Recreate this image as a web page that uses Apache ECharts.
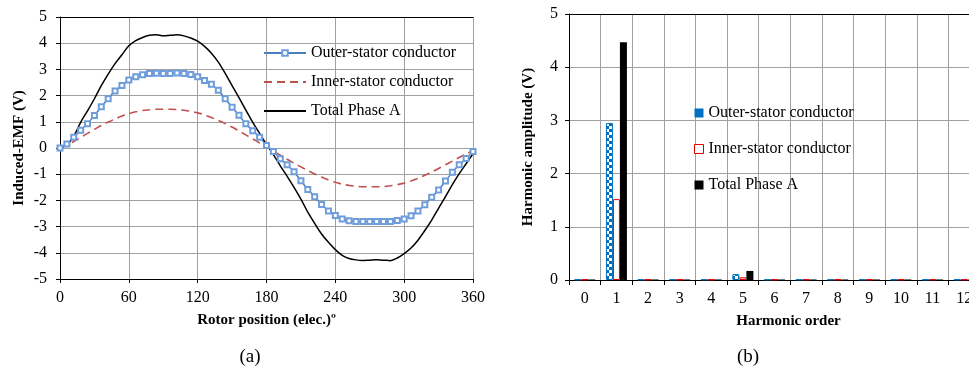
<!DOCTYPE html>
<html><head><meta charset="utf-8">
<script src="https://cdn.jsdelivr.net/npm/echarts@6/dist/echarts.min.js"></script>
<style>html,body{margin:0;padding:0;background:#fff}#c{width:969px;height:370px}</style>
</head><body><div id="c"></div>
<script>
// ---- (a) Induced EMF vs rotor position ----
const angleDeg = [0,6,12,18,24,30,36,42,48,54,60,66,72,78,84,90,96,102,108,114,120,126,132,138,144,150,156,162,168,174,180,186,192,198,204,210,216,222,228,234,240,246,252,258,264,270,276,282,288,294,300,306,312,318,324,330,336,342,348,354,360];
const outerEMF = [0,0.15,0.41,0.68,0.93,1.24,1.57,1.88,2.18,2.39,2.6,2.72,2.8,2.84,2.85,2.84,2.84,2.86,2.84,2.81,2.72,2.58,2.43,2.2,1.88,1.56,1.25,0.93,0.66,0.41,0.1,-0.13,-0.41,-0.64,-0.91,-1.25,-1.58,-1.86,-2.16,-2.4,-2.58,-2.71,-2.78,-2.81,-2.81,-2.81,-2.81,-2.81,-2.81,-2.77,-2.71,-2.59,-2.4,-2.17,-1.88,-1.6,-1.26,-0.93,-0.64,-0.4,-0.13];
const innerEMF = [0,0.1,0.25,0.4,0.56,0.71,0.86,0.99,1.11,1.22,1.31,1.38,1.43,1.46,1.48,1.48,1.48,1.47,1.44,1.4,1.34,1.26,1.16,1.05,0.93,0.8,0.65,0.5,0.35,0.19,0.04,-0.12,-0.27,-0.43,-0.58,-0.72,-0.86,-0.99,-1.11,-1.22,-1.31,-1.38,-1.43,-1.46,-1.48,-1.48,-1.48,-1.47,-1.44,-1.4,-1.34,-1.26,-1.16,-1.04,-0.92,-0.78,-0.64,-0.5,-0.36,-0.23,-0.1];
const totalEMF = [0,0.12,0.45,0.98,1.42,1.88,2.38,2.82,3.22,3.56,3.9,4.1,4.22,4.3,4.32,4.28,4.3,4.32,4.28,4.2,4.08,3.88,3.62,3.28,2.85,2.38,1.92,1.45,0.98,0.56,0.14,-0.25,-0.68,-1.08,-1.5,-1.95,-2.45,-2.88,-3.28,-3.6,-3.88,-4.1,-4.22,-4.27,-4.29,-4.28,-4.27,-4.28,-4.3,-4.2,-4.03,-3.82,-3.52,-3.15,-2.75,-2.3,-1.86,-1.4,-0.98,-0.6,-0.22];

// ---- (b) Harmonic spectrum ----
const harmonicOrders = ['0','1','2','3','4','5','6','7','8','9','10','11','12'];
const outerHarm = [0.01,2.95,0.01,0.01,0.01,0.11,0.01,0.01,0.01,0.01,0.01,0.01,0.01];
const innerHarm = [0.01,1.52,0.01,0.01,0.01,0.05,0.01,0.01,0.01,0.01,0.01,0.01,0.01];
const totalHarm = [0.01,4.47,0.01,0.01,0.01,0.17,0.01,0.01,0.01,0.01,0.01,0.01,0.01];

const seriesNames = ['Outer-stator conductor','Inner-stator conductor','Total Phase A'];
const barNames = seriesNames.map(n => n + ' ');

const FONT = 'Liberation Serif, Times New Roman, serif';
const GRIDC = '#a0a0a0';

const pat = document.createElement('canvas');
pat.width = 6; pat.height = 6;
const g = pat.getContext('2d');
g.fillStyle = '#ffffff'; g.fillRect(0,0,6,6);
g.fillStyle = '#0070c0';
g.fillRect(0,0,3,3); g.fillRect(3,3,3,3);

const pairs = arr => angleDeg.map((a,i) => [a, arr[i]]);

const axisLbl = {color:'#000', fontFamily:FONT, fontSize:16};
const nameStyle = {color:'#000', fontFamily:FONT, fontSize:15, fontWeight:'bold'};

const chart = echarts.init(document.getElementById('c'), null, {renderer:'canvas'});
chart.setOption({
  animation:false,
  backgroundColor:'#fff',
  grid:[
    {left:60, width:413, top:17, height:262, containLabel:false, outerBoundsMode:'none'},
    {left:569, width:411, top:14, height:266, containLabel:false, outerBoundsMode:'none'}
  ],
  xAxis:[
    {type:'value', gridIndex:0, min:0, max:360, interval:60,
     name:'Rotor position (elec.)º', nameLocation:'middle', nameGap:34, nameTextStyle:nameStyle,
     axisLine:{onZero:false, lineStyle:{color:'#000', width:1}},
     axisTick:{show:true, length:4, lineStyle:{color:'#000'}},
     axisLabel:Object.assign({margin:11}, axisLbl),
     splitLine:{show:true, lineStyle:{color:GRIDC, width:1}}},
    {type:'value', gridIndex:0, position:'top', min:0, max:1,
     axisLine:{show:true, onZero:false, lineStyle:{color:'#000'}}, axisTick:{show:false}, axisLabel:{show:false}, splitLine:{show:false}},
    {type:'category', gridIndex:1, data:harmonicOrders, boundaryGap:true,
     name:'Harmonic order', nameLocation:'middle', nameGap:34, nameTextStyle:Object.assign({padding:[0,0,0,28]}, nameStyle),
     axisLine:{onZero:false, lineStyle:{color:'#000', width:1}},
     axisTick:{show:true, length:5, interval:0, lineStyle:{color:'#000'}},
     axisLabel:Object.assign({margin:11, interval:0}, axisLbl),
     splitLine:{show:true, interval:0, lineStyle:{color:GRIDC, width:1}}},
    {type:'value', gridIndex:1, position:'top', min:0, max:1,
     axisLine:{show:true, onZero:false, lineStyle:{color:'#000'}}, axisTick:{show:false}, axisLabel:{show:false}, splitLine:{show:false}}
  ],
  yAxis:[
    {type:'value', gridIndex:0, min:-5, max:5, interval:1,
     name:'Induced-EMF (V)', nameLocation:'middle', nameGap:33, nameTextStyle:nameStyle,
     axisLine:{show:true, onZero:false, lineStyle:{color:'#000', width:1}},
     axisTick:{show:true, length:4, lineStyle:{color:'#000'}},
     axisLabel:Object.assign({margin:13}, axisLbl),
     splitLine:{show:true, lineStyle:{color:GRIDC, width:1}}},
    {type:'value', gridIndex:1, min:0, max:5, interval:1,
     name:'Harmonic amplitude (V)', nameLocation:'middle', nameGap:33, nameTextStyle:nameStyle,
     axisLine:{show:true, onZero:false, lineStyle:{color:'#000', width:1}},
     axisTick:{show:true, length:4, lineStyle:{color:'#000'}},
     axisLabel:Object.assign({margin:11}, axisLbl),
     splitLine:{show:true, lineStyle:{color:GRIDC, width:1}}}
  ],
  legend:[
    {orient:'vertical', left:263, top:45, padding:0, itemWidth:42, itemHeight:7, itemGap:13,
     data:[
       {name:seriesNames[0]},
       {name:seriesNames[1], itemStyle:{opacity:0}},
       {name:seriesNames[2], itemStyle:{opacity:0}}
     ],
     textStyle:{color:'#000', fontFamily:FONT, fontSize:16}, selectedMode:false},
    {orient:'vertical', left:694, top:105, padding:0, itemWidth:9, itemHeight:9, itemGap:20, icon:'rect',
     data:[
       {name:barNames[0], itemStyle:{color:'#0070c0', borderWidth:0}},
       {name:barNames[1], itemStyle:{color:'#ffffff', borderColor:'#e00000', borderWidth:1}},
       {name:barNames[2], itemStyle:{color:'#000000', borderWidth:0}}
     ],
     textStyle:{color:'#000', fontFamily:FONT, fontSize:16}, selectedMode:false}
  ],
  graphic:[
    {type:'text', style:{text:'(a)', x:250, y:357, fill:'#000', font:'19px Liberation Serif', align:'center', verticalAlign:'middle'}},
    {type:'text', style:{text:'(b)', x:748, y:357, fill:'#000', font:'19px Liberation Serif', align:'center', verticalAlign:'middle'}}
  ],
  series:[
    {name:seriesNames[0], type:'line', xAxisIndex:0, yAxisIndex:0, data:pairs(outerEMF), smooth:0.3,
     symbol:'emptyRect', symbolSize:5, showAllSymbol:true,
     lineStyle:{color:'#4a7ebb', width:1.5}, itemStyle:{color:'#6f9ddb', borderColor:'#6f9ddb', borderWidth:1}},
    {name:seriesNames[1], type:'line', xAxisIndex:0, yAxisIndex:0, data:pairs(innerEMF), smooth:0.3,
     symbol:'none', lineStyle:{color:'#c0504d', width:1.6, type:[8,5]}, itemStyle:{color:'#c0504d'}},
    {name:seriesNames[2], type:'line', xAxisIndex:0, yAxisIndex:0, data:pairs(totalEMF), smooth:0.3,
     symbol:'none', lineStyle:{color:'#000', width:1.5}, itemStyle:{color:'#000'}},
    {name:barNames[0], type:'bar', xAxisIndex:2, yAxisIndex:1, data:outerHarm, barWidth:7, barGap:'0%',
     itemStyle:{color:{image:pat, repeat:'repeat'}, borderColor:'#0070c0', borderWidth:1}},
    {name:barNames[1], type:'bar', xAxisIndex:2, yAxisIndex:1, data:innerHarm, barWidth:7, barGap:'0%',
     itemStyle:{color:'#ffffff', borderColor:'#e00000', borderWidth:1}},
    {name:barNames[2], type:'bar', xAxisIndex:2, yAxisIndex:1, data:totalHarm, barWidth:7, barGap:'0%',
     itemStyle:{color:'#000000'}}
  ]
});
</script>
</body></html>
